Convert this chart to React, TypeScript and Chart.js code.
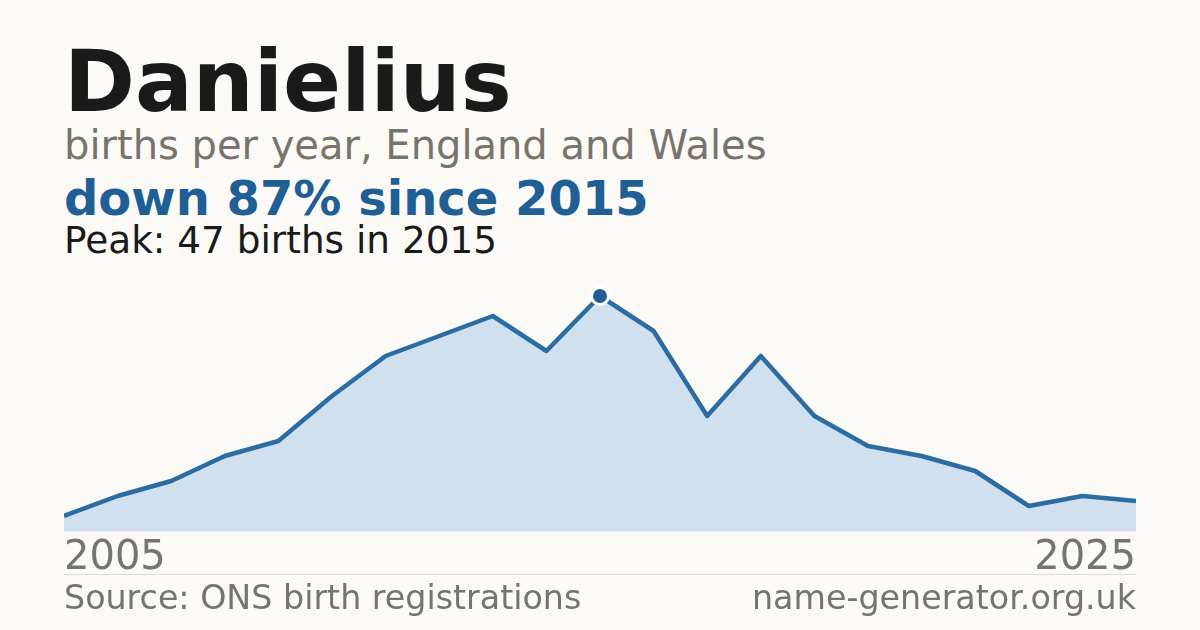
import { useEffect, useRef } from "react";
import { Chart } from "chart.js/auto";

const years = [
  "2005", "2006", "2007", "2008", "2009", "2010", "2011", "2012", "2013", "2014",
  "2015", "2016", "2017", "2018", "2019", "2020", "2021", "2022", "2023", "2024", "2025",
];
const births = [3, 7, 10, 15, 18, 27, 35, 39, 43, 36, 47, 40, 23, 35, 23, 17, 15, 12, 5, 7, 6];
const peakIndex = 10;

const font = "'DejaVu Sans', sans-serif";
const bg = "#fbfaf6";
const grey = "#78746c";
const blue = "#1f5f96";

const BirthsChart = () => {
  const chartRef = useRef<HTMLCanvasElement>(null);
  const chartInstance = useRef<Chart | null>(null);

  useEffect(() => {
    if (!chartRef.current) return;
    if (chartInstance.current) chartInstance.current.destroy();
    const ctx = chartRef.current.getContext("2d");
    if (!ctx) return;

    chartInstance.current = new Chart(ctx, {
      type: "line",
      data: {
        labels: years,
        datasets: [
          {
            data: births,
            borderColor: "#2b6ca3",
            backgroundColor: "#d1e0ef",
            borderWidth: 4.5,
            borderJoinStyle: "round",
            fill: "origin",
            tension: 0,
            clip: false,
            pointRadius: births.map((_, i) => (i === peakIndex ? 8.5 : 0)),
            pointHoverRadius: 0,
            pointBackgroundColor: blue,
            pointBorderColor: "#ffffff",
            pointBorderWidth: 3,
          },
        ],
      },
      options: {
        animation: false,
        responsive: false,
        maintainAspectRatio: false,
        layout: { autoPadding: false, padding: { top: 16, left: 0, right: 0, bottom: 0 } },
        plugins: {
          legend: { display: false },
          tooltip: { enabled: false },
        },
        scales: {
          x: {
            grid: { display: false },
            border: { display: true, color: "#dedbd4", width: 1.5 },
            ticks: {
              autoSkip: false,
              maxRotation: 0,
              align: "inner",
              padding: -4,
              color: grey,
              font: { family: font, size: 40 },
              callback: (_v, i) => (i === 0 || i === years.length - 1 ? years[i] : ""),
            },
          },
          y: {
            display: false,
            min: 0,
            max: 47,
          },
        },
      },
    });

    return () => {
      if (chartInstance.current) {
        chartInstance.current.destroy();
        chartInstance.current = null;
      }
    };
  }, []);

  return <canvas ref={chartRef} width={1072} height={299} style={{ width: 1072, height: 299 }} />;
};

const text = (top: number, size: number, color: string, weight = 400): React.CSSProperties => ({
  position: "absolute",
  left: 64,
  top,
  fontSize: size,
  lineHeight: 1,
  color,
  fontWeight: weight,
  whiteSpace: "nowrap",
});

export default function App() {
  return (
    <div
      style={{
        position: "absolute",
        left: 0,
        top: 0,
        width: 1200,
        height: 630,
        background: bg,
        fontFamily: font,
        overflow: "hidden",
      }}
    >
      <div style={text(39, 85.6, "#1a1a1a", 700)}>Danielius</div>
      <div style={text(125, 40, grey)}>births per year, England and Wales</div>
      <div style={text(174, 48, blue, 700)}>down 87% since 2015</div>
      <div style={text(221.5, 37.4, "#1a1a1a")}>Peak: 47 births in 2015</div>

      <div style={{ position: "absolute", left: 64, top: 280 }}>
        <BirthsChart />
      </div>

      <div style={{ position: "absolute", left: 64, top: 574, width: 1072, height: 1, background: "#dedbd4" }} />
      <div style={text(581, 33.3, grey)}>Source: ONS birth registrations</div>
      <div style={{ ...text(581, 33.3, grey), left: "auto", right: 64 }}>name-generator.org.uk</div>
    </div>
  );
}
